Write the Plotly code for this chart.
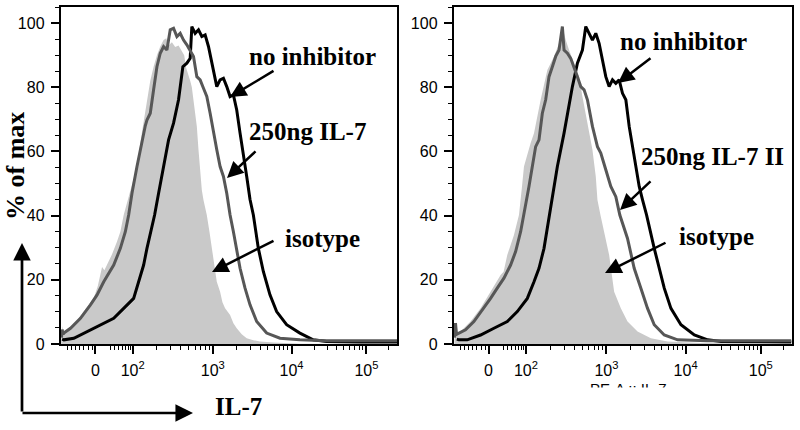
import math
import plotly.graph_objects as go

# ---------------- data (x = display channel of the biexponential IL-7 axis, y = % of max)
L_ISO_X = [2, 5, 8, 12, 25, 40, 55, 70, 85, 100, 112, 118, 125, 132, 140, 155, 170, 180, 190, 200, 215, 230, 245, 260, 270, 280, 290, 300, 310, 318, 325, 335, 345, 355, 365, 372, 378, 385, 390, 395, 400, 405, 410, 415, 420, 425, 430, 440, 448, 455, 462, 470, 480, 487, 495, 510, 520, 530, 545, 560, 580, 600, 640, 670, 720, 1012]
L_ISO_Y = [1, 5.5, 3.5, 3.9, 5, 6, 8, 10.1, 12, 14.3, 18, 20.5, 24, 23, 24.6, 28, 31.9, 35, 40.2, 44, 50, 55.3, 66, 76.1, 82, 86.4, 90, 92.7, 94.7, 95.3, 93, 94, 92.5, 93, 91, 90, 86, 84, 82, 80, 76, 72, 67.8, 60.5, 53.2, 48, 44.9, 40.2, 35, 29.8, 24, 19.4, 16.3, 13, 11.1, 9, 6.5, 4.9, 3, 1.8, 1.2, 0.8, 0.5, 0.3, 0.1, 0]

L_IL7_X = [3, 5, 8, 10, 30, 60, 90, 110, 130, 160, 180, 195, 205, 215, 230, 245, 255, 260, 270, 280, 290, 300, 310, 320, 330, 340, 350, 360, 370, 380, 390, 400, 410, 420, 430, 440, 450, 460, 470, 480, 490, 500, 510, 520, 530, 540, 555, 570, 590, 620, 660, 720, 800, 900, 1012]
L_IL7_Y = [2, 4.5, 3, 3.4, 4.9, 8, 12.2, 15.3, 19.4, 24.6, 29.8, 35, 40.2, 47, 55.3, 63.6, 68, 69.8, 71.9, 79.2, 86.4, 90.6, 92.7, 91.6, 97.9, 98.4, 95.8, 96.8, 94.7, 93.2, 91.6, 89.6, 83.3, 82.3, 79.7, 77.1, 71.9, 65.7, 60.5, 55.3, 52.2, 47, 40.2, 35, 29.8, 23.6, 17.4, 12.2, 7, 3.4, 1.8, 1.3, 1.0, 1.0, 1.0]

L_NOI_X = [5, 10, 40, 80, 120, 160, 190, 220, 235, 250, 260, 272, 283, 295, 310, 325, 340, 355, 368, 380, 390, 395, 405, 415, 425, 435, 445, 455, 465, 470, 480, 490, 500, 510, 520, 530, 540, 550, 560, 570, 580, 595, 610, 630, 650, 680, 720, 760, 800, 900, 1012]
L_NOI_Y = [1.5, 1.3, 1.8, 3.9, 5.9, 8.0, 11.1, 14.2, 19.4, 24.6, 29.8, 35, 40.2, 47, 55.3, 63.6, 68.8, 76.1, 86.4, 87.5, 89, 98.9, 96.8, 97.9, 95.8, 96.3, 92.7, 87.5, 83.3, 80.2, 82.3, 82.8, 80.2, 77.1, 77.6, 72.9, 65.7, 59.5, 52.2, 45, 40.2, 29.8, 22.6, 15.3, 10.1, 6.0, 3.4, 1.3, 0.8, 0.6, 0.6]

R_ISO_X = [3, 9, 12, 21, 51, 81, 111, 135, 141, 150, 161, 181, 196, 205, 211, 231, 241, 261, 281, 301, 316, 326, 336, 346, 361, 376, 386, 396, 406, 416, 426, 431, 440, 451, 466, 481, 501, 521, 551, 591, 641, 741, 1012]
R_ISO_Y = [1, 7, 3.5, 3.9, 7, 11.1, 16.3, 20.5, 21.5, 22.5, 27.7, 34, 40.2, 49, 55.3, 62.6, 65.7, 76.1, 85.4, 89.6, 93.7, 98.9, 94.7, 91.6, 87.5, 83.3, 77.1, 71.9, 65.7, 60.5, 52.2, 44.9, 40.2, 35, 27.7, 16.3, 11.1, 7, 3.9, 1.8, 0.8, 0.3, 0]

R_IL7_X = [3, 6, 9, 16, 36, 61, 91, 111, 131, 151, 171, 186, 201, 211, 226, 236, 246, 256, 266, 276, 286, 296, 306, 316, 326, 331, 341, 351, 361, 371, 381, 391, 401, 416, 431, 441, 456, 471, 486, 498, 521, 541, 561, 581, 601, 631, 671, 760, 1012]
R_IL7_Y = [2, 6.5, 3, 3.4, 4.4, 7, 11.1, 14.2, 17.4, 20.5, 24.6, 28.8, 35, 40.2, 49.1, 55.3, 61.5, 63.6, 71.9, 76.1, 83.3, 86.4, 89.6, 91.6, 98.9, 91.6, 90.6, 89.0, 86.4, 83.3, 80.2, 79.2, 76.1, 67.8, 61.5, 59.5, 54.3, 49.1, 45.9, 40.2, 32.9, 23.6, 17.4, 11.1, 6, 2.8, 1.3, 1.0, 1.0]

R_NOI_X = [10, 16, 41, 81, 121, 161, 191, 221, 241, 256, 271, 288, 300, 311, 331, 341, 356, 371, 386, 396, 406, 416, 426, 436, 446, 456, 466, 476, 486, 496, 506, 516, 526, 536, 546, 556, 566, 578, 601, 616, 631, 651, 681, 721, 761, 801, 1012]
R_NOI_Y = [1.5, 1.3, 1.3, 2.8, 4.9, 7, 10.1, 14.2, 19.4, 23.6, 29.8, 40.2, 48, 55.3, 65.7, 71.9, 80.2, 87.5, 91.6, 98.9, 96.8, 94.7, 96.8, 93.7, 88.5, 83.3, 80.2, 82.3, 81.2, 82.3, 78.1, 76.1, 67.8, 61.5, 55.3, 49.1, 44.9, 40.2, 29.8, 23.6, 17.4, 11.1, 6, 2.8, 1.3, 0.8, 0.6]

# axis ticks (display channels of the decades)
ZERO_CH = 105
DECADES = [2, 3, 4, 5]
DECADE_CH = [217, 458, 695, 920]
X_TICK_TEXT = ["0", "10<sup>2</sup>", "10<sup>3</sup>", "10<sup>4</sup>", "10<sup>5</sup>"]
NEG_MINOR_CH = [20, 33, 45, 58, 70, 85, 95]
LOW_MINOR_CH = [150, 163, 175, 185, 195, 203, 210]
Y_TICKS = [0, 20, 40, 60, 80, 100]

X_RANGE = [0, 1012]
Y_RANGE = [0, 105]

# ---------------- figure
W, H = 800, 430


def P(px, py):
    return px / W, 1 - py / H


minor_ch = list(NEG_MINOR_CH) + list(LOW_MINOR_CH)
for i in range(len(DECADE_CH)):
    lo = DECADE_CH[i]
    width = (DECADE_CH[i + 1] - lo) if i + 1 < len(DECADE_CH) else (DECADE_CH[i] - DECADE_CH[i - 1])
    for k in range(2, 10):
        c = lo + math.log10(k) * width
        if c < X_RANGE[1]:
            minor_ch.append(c)

fig = go.Figure()

ISO_FILL = "#c9c9c9"
GRAY = "#575757"


def add_panel(xa, ya, iso_x, iso_y, il7_x, il7_y, noi_x, noi_y):
    fig.add_trace(go.Scatter(x=iso_x, y=iso_y, xaxis=xa, yaxis=ya, mode="lines",
                             line=dict(width=0, color=ISO_FILL), fill="tozeroy",
                             fillcolor=ISO_FILL, hoverinfo="skip"))
    fig.add_trace(go.Scatter(x=noi_x, y=noi_y, xaxis=xa, yaxis=ya, mode="lines",
                             line=dict(width=3, color="black")))
    fig.add_trace(go.Scatter(x=il7_x, y=il7_y, xaxis=xa, yaxis=ya, mode="lines",
                             line=dict(width=3, color=GRAY)))


add_panel("x", "y", L_ISO_X, L_ISO_Y, L_IL7_X, L_IL7_Y, L_NOI_X, L_NOI_Y)
add_panel("x2", "y2", R_ISO_X, R_ISO_Y, R_IL7_X, R_IL7_Y, R_NOI_X, R_NOI_Y)


def tickfont():
    return dict(family="Arial", size=16, color="black")


def xaxis_spec(domain, anchor):
    return dict(domain=domain, anchor=anchor, range=X_RANGE, showline=True, linecolor="black",
                linewidth=1.5, mirror=True, ticks="outside", ticklen=8, tickwidth=1.5,
                tickcolor="black", tickmode="array", tickvals=[ZERO_CH] + DECADE_CH,
                ticktext=X_TICK_TEXT, tickfont=tickfont(), showgrid=False, zeroline=False,
                ticklabelstandoff=3, automargin=False,
                minor=dict(tickvals=minor_ch, ticklen=4, tickwidth=1.2, tickcolor="black",
                           ticks="outside", showgrid=False))


def yaxis_spec(domain, anchor):
    return dict(domain=domain, anchor=anchor, range=Y_RANGE, showline=True, linecolor="black",
                linewidth=1.5, mirror=True, ticks="outside", ticklen=8, tickwidth=1.5,
                tickcolor="black", tickmode="array", tickvals=Y_TICKS, tickfont=tickfont(),
                showgrid=False, zeroline=False, ticklabelstandoff=3, automargin=False,
                minor=dict(tick0=0, dtick=5, ticklen=4, tickwidth=1.2, tickcolor="black",
                           ticks="outside", showgrid=False))


ydom = [1 - 344 / H, 1 - 7 / H]
fig.update_layout(
    width=W, height=H, margin=dict(l=0, r=0, t=0, b=0, autoexpand=False),
    paper_bgcolor="white", plot_bgcolor="white", showlegend=False,
    font=dict(family="Arial", size=16, color="black"),
    xaxis=xaxis_spec([60.5 / W, 397 / W], "y"),
    yaxis=yaxis_spec(ydom, "x"),
    xaxis2=xaxis_spec([453.5 / W, 791.5 / W], "y2"),
    yaxis2=yaxis_spec(ydom, "x2"),
)

SERIF = "Liberation Serif, Times New Roman, serif"
anns = []


def label(text, cx, cy, size=25, angle=0):
    x, y = P(cx, cy)
    anns.append(dict(text="<b>%s</b>" % text, x=x, y=y, xref="paper", yref="paper",
                     xanchor="center", yanchor="middle", showarrow=False, textangle=angle,
                     font=dict(family=SERIF, size=size, color="black")))


def arrow(tail, tip, width=2.5, size=1.3):
    x, y = P(*tip)
    anns.append(dict(text="", x=x, y=y, xref="paper", yref="paper", showarrow=True,
                     ax=tail[0] - tip[0], ay=tail[1] - tip[1], arrowhead=2,
                     arrowsize=size, arrowwidth=width, arrowcolor="black"))


# left panel labels
label("no inhibitor", 312, 56.6)
arrow((275, 70), (230, 97))
label("250ng IL-7", 307, 131.6)
arrow((257, 150), (227, 178))
label("isotype", 322.5, 238.3)
arrow((275, 240), (212, 272))

# right panel labels
label("no inhibitor", 683, 41)
arrow((652, 57), (618, 83))
label("250ng IL-7 II", 712.5, 156.6)
arrow((652, 180), (620, 210))
label("isotype", 716, 236.6)
arrow((667, 242), (605, 273))

# axis titles and corner arrows
label("% of max", 15, 166, size=26, angle=-90)
label("IL-7", 238, 406.6)
arrow((22, 413), (22, 243), width=2.7, size=1.3)
arrow((21, 413), (193, 413), width=2.7, size=1.3)

# partly hidden instrument axis title on the right panel
x, y = P(628, 378)
anns.append(dict(text="PE-A :: IL-7", x=x, y=y, xref="paper", yref="paper", xanchor="center",
                 yanchor="top", showarrow=False,
                 font=dict(family="Arial", size=15, color="black")))
x, y = P(628, 387)
anns.append(dict(text=" ", x=x, y=y, xref="paper", yref="paper", xanchor="center",
                 yanchor="top", showarrow=False, bgcolor="white", width=120, height=20,
                 font=dict(size=10)))

fig.update_layout(annotations=anns)
fig.write_html("out.html", config={"displayModeBar": False},
               post_script="document.body.style.margin='0';document.body.style.overflow='hidden';")
